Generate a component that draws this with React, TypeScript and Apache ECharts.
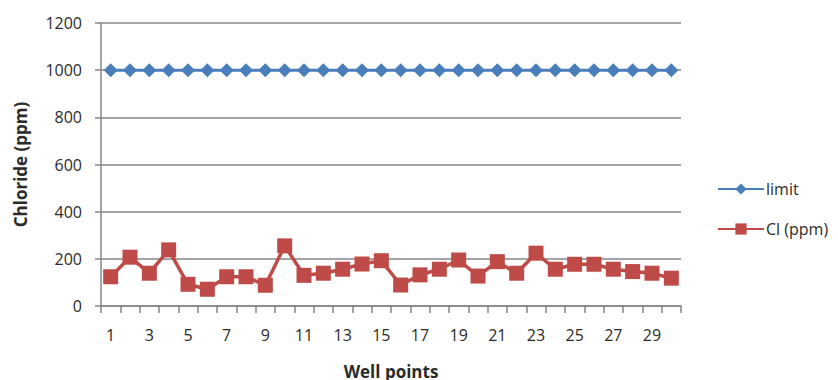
import React, { useEffect, useRef } from "react";
import * as echarts from "echarts";

const wellPoints = Array.from({ length: 30 }, (_, i) => String(i + 1));
const limitValues = [
  1000, 1000, 1000, 1000, 1000, 1000, 1000, 1000, 1000, 1000,
  1000, 1000, 1000, 1000, 1000, 1000, 1000, 1000, 1000, 1000,
  1000, 1000, 1000, 1000, 1000, 1000, 1000, 1000, 1000, 1000,
];
const chlorideValues = [
  124, 207, 139, 238, 92, 71, 124, 124, 88, 255,
  130, 139, 156, 178, 192, 89, 132, 156, 195, 127,
  188, 139, 224, 156, 177, 177, 156, 146, 139, 118,
];

const FONT = "'Open Sans', 'Noto Sans', sans-serif";
const AXIS_GRAY = "#868686";
const TEXT = "#2b2b2b";

export default function App() {
  const ref = useRef<HTMLDivElement>(null);

  useEffect(() => {
    if (!ref.current) return;
    const chart = echarts.init(ref.current, null, { renderer: "svg" });
    chart.setOption({
      animation: false,
      backgroundColor: "#ffffff",
      textStyle: { fontFamily: FONT },
      grid: { left: 101, right: 157, top: 23, bottom: 74, outerBoundsMode: "none", containLabel: false },
      legend: {
        orient: "vertical",
        left: 712,
        top: 176,
        itemWidth: 46,
        itemHeight: 14,
        itemGap: 24,
        textStyle: { fontFamily: FONT, fontSize: 16, color: TEXT, padding: [0, 0, 0, -3] },
        data: [{ name: "limit" }, { name: "Cl (ppm)" }],
      },
      xAxis: {
        type: "category",
        data: wellPoints,
        boundaryGap: true,
        name: "Well points",
        nameLocation: "middle",
        nameGap: 57,
        nameTextStyle: { fontFamily: FONT, fontSize: 17, fontWeight: "bold", color: TEXT },
        axisLine: { lineStyle: { color: AXIS_GRAY, width: 1.5 } },
        axisTick: { show: true, interval: 0, length: 7, lineStyle: { color: AXIS_GRAY, width: 1.5 } },
        axisLabel: { interval: 1, margin: 21, fontSize: 16, color: TEXT, fontFamily: FONT },
        splitLine: { show: false },
      },
      yAxis: {
        type: "value",
        min: 0,
        max: 1200,
        interval: 200,
        name: "Chloride (ppm)",
        nameLocation: "middle",
        nameRotate: 90,
        nameGap: 72,
        nameTextStyle: { fontFamily: FONT, fontSize: 17, fontWeight: "bold", color: TEXT },
        axisLine: { show: true, lineStyle: { color: AXIS_GRAY, width: 1.5 } },
        axisTick: { show: true, length: 6, lineStyle: { color: AXIS_GRAY, width: 1.5 } },
        axisLabel: {
          margin: 19,
          fontSize: 16,
          color: TEXT,
          fontFamily: FONT,
          formatter: (v: number) => String(v),
        },
        splitLine: { show: true, lineStyle: { color: AXIS_GRAY, width: 1.5 } },
      },
      series: [
        {
          name: "limit",
          type: "line",
          data: limitValues,
          showAllSymbol: true,
          symbol: "diamond",
          symbolSize: 14,
          color: "#4a7ebb",
          lineStyle: { color: "#4a7ebb", width: 3 },
          itemStyle: { color: "#4a7ebb" },
        },
        {
          name: "Cl (ppm)",
          type: "line",
          data: chlorideValues,
          showAllSymbol: true,
          symbol: "rect",
          symbolSize: 15,
          color: "#be4b48",
          lineStyle: { color: "#be4b48", width: 3.5 },
          itemStyle: { color: "#be4b48" },
        },
      ],
    });
    return () => chart.dispose();
  }, []);

  return (
    <div
      ref={ref}
      style={{ position: "absolute", left: 0, top: 0, width: 838, height: 380 }}
    />
  );
}
